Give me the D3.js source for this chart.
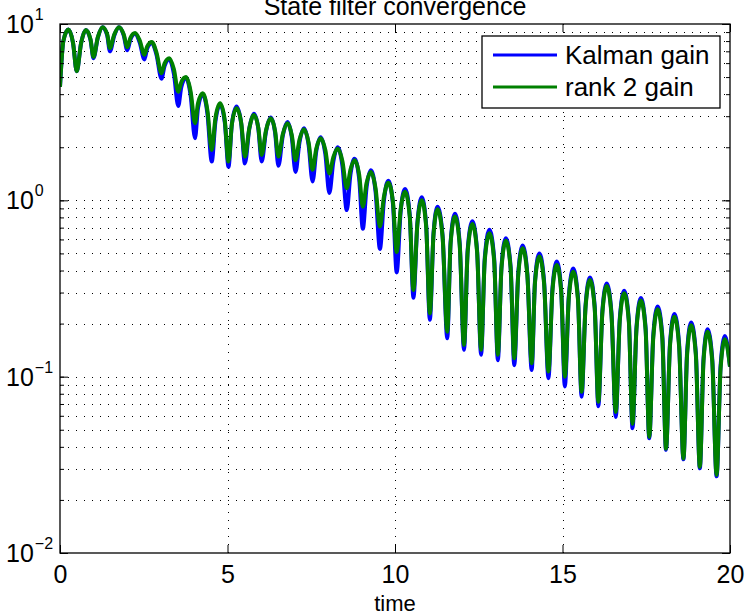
<!DOCTYPE html>
<meta charset="utf-8">
<style>
    body { margin: 0; background: #fff; }
    text { font-family: "Liberation Sans", Arial, Helvetica, sans-serif; fill: #000; }
</style>
<body>
<script src="https://cdn.jsdelivr.net/npm/d3@7"></script>
<script>
    /* data: peaks, troughs and the shoulders between them */
    var time = [0, 0.1, 0.25, 0.39, 0.50, 0.63, 0.77, 0.91, 1.00, 1.13, 1.27, 1.41, 1.49, 1.62, 1.76, 1.90, 2.01, 2.10,
        2.24, 2.38, 2.52, 2.60, 2.74, 2.88, 3.03, 3.12, 3.26, 3.40, 3.53, 3.62, 3.76, 3.90, 4.03, 4.12,
        4.26, 4.40, 4.53, 4.64, 4.78, 4.92, 5.03, 5.13, 5.27, 5.41, 5.52, 5.65, 5.79, 5.92, 6.02, 6.15,
        6.29, 6.42, 6.52, 6.65, 6.79, 6.92, 7.03, 7.15, 7.28, 7.42, 7.54, 7.65, 7.78, 7.92, 8.04, 8.16,
        8.29, 8.43, 8.56, 8.67, 8.79, 8.93, 9.04, 9.15, 9.28, 9.42, 9.55, 9.67, 9.80, 9.94, 10.05, 10.17,
        10.30, 10.44, 10.55, 10.67, 10.80, 10.93, 11.04, 11.15, 11.27, 11.42, 11.56, 11.66, 11.79, 11.93, 12.06, 12.17,
        12.31, 12.45, 12.57, 12.68, 12.82, 12.96, 13.07, 13.18, 13.31, 13.45, 13.56, 13.68, 13.81, 13.95, 14.08, 14.18,
        14.31, 14.45, 14.58, 14.70, 14.83, 14.96, 15.07, 15.19, 15.32, 15.46, 15.57, 15.69, 15.82, 15.96, 16.07, 16.19,
        16.32, 16.46, 16.59, 16.71, 16.84, 16.98, 17.09, 17.21, 17.34, 17.48, 17.59, 17.71, 17.84, 17.98, 18.09, 18.21,
        18.34, 18.48, 18.61, 18.72, 18.84, 18.98, 19.10, 19.21, 19.33, 19.47, 19.60, 19.72, 19.85, 20.0];

    var kalman = [4.4, 8.0, 9.3, 7.8, 5.4, 7.8, 9.25, 8.15, 6.4, 8.38, 9.6, 8.61, 7.0, 8.61, 9.6, 8.65, 7.1, 8.15,
        8.8, 7.85, 6.3, 7.23, 7.8, 6.7, 4.9, 5.77, 6.3, 5.21, 3.43, 4.37, 4.95, 3.92, 2.25, 3.34,
        4.0, 3.11, 1.66, 2.8, 3.5, 2.76, 1.55, 2.7, 3.4, 2.72, 1.62, 2.54, 3.1, 2.55, 1.66, 2.46,
        2.95, 2.43, 1.57, 2.32, 2.78, 2.27, 1.45, 2.14, 2.56, 2.07, 1.28, 1.9, 2.28, 1.83, 1.10, 1.66,
        2.0, 1.57, 0.88, 1.4, 1.72, 1.33, 0.69, 1.18, 1.48, 1.12, 0.53, 1.0, 1.29, 0.95, 0.39, 0.87,
        1.16, 0.83, 0.28, 0.75, 1.04, 0.725, 0.21, 0.65, 0.92, 0.633, 0.165, 0.58, 0.84, 0.575, 0.142, 0.525,
        0.76, 0.522, 0.133, 0.472, 0.68, 0.469, 0.124, 0.425, 0.61, 0.422, 0.116, 0.388, 0.555, 0.385, 0.109, 0.351,
        0.5, 0.347, 0.098, 0.316, 0.45, 0.312, 0.088, 0.288, 0.41, 0.283, 0.077, 0.256, 0.365, 0.252, 0.068, 0.235,
        0.338, 0.232, 0.059, 0.213, 0.307, 0.21, 0.051, 0.192, 0.279, 0.19, 0.0447, 0.172, 0.25, 0.17, 0.0385, 0.155,
        0.227, 0.154, 0.034, 0.139, 0.203, 0.137, 0.0302, 0.127, 0.186, 0.126, 0.0272, 0.116, 0.17, 0.114];

    var rank2 = [4.4, 8.0, 9.3, 7.8, 5.4, 7.8, 9.25, 8.2, 6.5, 8.42, 9.6, 8.73, 7.3, 8.73, 9.6, 8.76, 7.4, 8.33,
        8.9, 8.06, 6.7, 7.44, 7.9, 6.89, 5.25, 5.96, 6.4, 5.54, 4.13, 4.67, 5.0, 4.14, 2.74, 3.55,
        4.05, 3.24, 1.93, 2.93, 3.55, 2.83, 1.66, 2.7, 3.33, 2.74, 1.77, 2.56, 3.05, 2.58, 1.81, 2.5,
        2.92, 2.48, 1.77, 2.37, 2.74, 2.34, 1.69, 2.21, 2.53, 2.13, 1.49, 1.96, 2.25, 1.93, 1.42, 1.76,
        1.97, 1.67, 1.17, 1.49, 1.69, 1.4, 0.92, 1.25, 1.45, 1.17, 0.71, 1.05, 1.26, 0.975, 0.51, 0.89,
        1.12, 0.81, 0.31, 0.74, 1.0, 0.71, 0.228, 0.64, 0.89, 0.62, 0.18, 0.57, 0.81, 0.56, 0.151, 0.513,
        0.735, 0.51, 0.142, 0.457, 0.65, 0.454, 0.133, 0.416, 0.59, 0.414, 0.127, 0.38, 0.535, 0.377, 0.119, 0.343,
        0.48, 0.338, 0.107, 0.307, 0.43, 0.305, 0.1, 0.282, 0.394, 0.275, 0.082, 0.25, 0.353, 0.246, 0.072, 0.23,
        0.327, 0.227, 0.063, 0.208, 0.297, 0.205, 0.054, 0.188, 0.27, 0.185, 0.0456, 0.167, 0.241, 0.164, 0.039, 0.151,
        0.219, 0.149, 0.0344, 0.134, 0.196, 0.133, 0.0308, 0.123, 0.18, 0.122, 0.0277, 0.112, 0.163, 0.114];

    var seriesNames = ["Kalman gain", "rank 2 gain"];
    var seriesColors = ["#0000ff", "#008000"];
    var xTicks = [0, 5, 10, 15, 20];
    var yTicks = [0.01, 0.1, 1, 10];
    var yExponents = ["\u22122", "\u22121", "0", "1"];

    /* sizes (plot box edges) */
    var w = 746;
    var h = 615;
    var boxL = 60, boxR = 730, boxT = 24, boxB = 553;

    var svg = d3.select("body").append("svg")
        .attr("width", w)
        .attr("height", h);

    var xScale = d3.scaleLinear().domain([0, 20]).range([boxL, boxR]);
    var yScale = d3.scaleLog().domain([0.01, 10]).range([boxB, boxT]);

    var minorY = yScale.ticks();

    /* dotted grid */
    var grid = svg.append("g")
        .attr("stroke", "#000")
        .attr("stroke-width", 1)
        .attr("stroke-dasharray", "1,7")
        .attr("shape-rendering", "crispEdges");

    grid.selectAll(".hg")
        .data(minorY.filter(function (d) { return d > 0.0101 && d < 9.9; }))
        .enter().append("line")
        .attr("x1", boxL).attr("x2", boxR)
        .attr("y1", function (d) { return Math.round(yScale(d)) + 0.5; })
        .attr("y2", function (d) { return Math.round(yScale(d)) + 0.5; });

    grid.selectAll(".vg")
        .data(xTicks.slice(1, -1))
        .enter().append("line")
        .attr("y1", boxB).attr("y2", boxT)
        .attr("x1", function (d) { return Math.round(xScale(d)) + 0.5; })
        .attr("x2", function (d) { return Math.round(xScale(d)) + 0.5; });

    /* curves */
    svg.append("clipPath").attr("id", "clip")
        .append("rect")
        .attr("x", boxL).attr("y", boxT)
        .attr("width", boxR - boxL).attr("height", boxB - boxT);

    var line = d3.line()
        .x(function (d, i) { return xScale(time[i]); })
        .y(function (d) { return yScale(d); })
        .curve(d3.curveMonotoneX);

    svg.append("g").attr("clip-path", "url(#clip)")
        .selectAll("path")
        .data([kalman, rank2])
        .enter().append("path")
        .attr("d", line)
        .attr("fill", "none")
        .attr("stroke", function (d, i) { return seriesColors[i]; })
        .attr("stroke-width", 4)
        .attr("stroke-linejoin", "round");

    /* axes, ticks pointing inward on all four sides */
    var xAxisB = d3.axisBottom(xScale).tickValues(xTicks).tickSizeInner(-8).tickSizeOuter(0).tickPadding(12);
    var xAxisT = d3.axisTop(xScale).tickValues(xTicks).tickSizeInner(-8).tickSizeOuter(0).tickFormat("");
    var yAxisL = d3.axisLeft(yScale).tickValues(yTicks).tickSizeInner(-8).tickSizeOuter(0).tickFormat("");
    var yAxisR = d3.axisRight(yScale).tickValues(yTicks).tickSizeInner(-8).tickSizeOuter(0).tickFormat("");
    var yMinL = d3.axisLeft(yScale).tickValues(minorY).tickSizeInner(-4).tickSizeOuter(0).tickFormat("");
    var yMinR = d3.axisRight(yScale).tickValues(minorY).tickSizeInner(-4).tickSizeOuter(0).tickFormat("");

    var gx = svg.append("g").attr("transform", "translate(0," + boxB + ")").call(xAxisB);
    svg.append("g").attr("transform", "translate(0," + boxT + ")").call(xAxisT);
    svg.append("g").attr("transform", "translate(" + boxL + ",0)").call(yAxisL);
    svg.append("g").attr("transform", "translate(" + boxR + ",0)").call(yAxisR);
    svg.append("g").attr("transform", "translate(" + boxL + ",0)").call(yMinL);
    svg.append("g").attr("transform", "translate(" + boxR + ",0)").call(yMinR);

    svg.selectAll(".domain").remove();
    svg.selectAll(".tick line").attr("stroke", "#000").attr("stroke-width", 1);

    gx.selectAll("text")
        .style("font-size", "25px")
        .style("font-family", "'Liberation Sans', Arial, sans-serif")
        .attr("fill", "#000");

    /* plot box */
    svg.append("rect")
        .attr("x", boxL).attr("y", boxT)
        .attr("width", boxR - boxL).attr("height", boxB - boxT)
        .attr("fill", "none")
        .attr("stroke", "#000")
        .attr("stroke-width", 1.3);

    /* y labels: 10 with exponent */
    var yLab = svg.selectAll(".ylab")
        .data(yTicks)
        .enter().append("text")
        .attr("x", 6)
        .attr("y", function (d) { return yScale(d) + 9; })
        .style("font-size", "25px");
    yLab.append("tspan").text("10");
    yLab.append("tspan")
        .attr("dy", -13)
        .attr("dx", 1)
        .style("font-size", "16px")
        .text(function (d, i) { return yExponents[i]; });

    /* title and x label */
    svg.append("text")
        .attr("x", 395).attr("y", 15)
        .attr("text-anchor", "middle")
        .style("font-size", "25px")
        .text("State filter convergence");

    svg.append("text")
        .attr("x", 395).attr("y", 611)
        .attr("text-anchor", "middle")
        .style("font-size", "22px")
        .text("time");

    /* legend */
    var legend = svg.append("g");
    legend.append("rect")
        .attr("x", 482).attr("y", 36)
        .attr("width", 238).attr("height", 72)
        .attr("fill", "#fff")
        .attr("stroke", "#000")
        .attr("stroke-width", 1.3);

    var items = legend.selectAll(".item")
        .data(seriesNames)
        .enter().append("g")
        .attr("transform", function (d, i) { return "translate(0," + (55 + i * 32) + ")"; });

    items.append("line")
        .attr("x1", 493).attr("x2", 557)
        .attr("stroke", function (d, i) { return seriesColors[i]; })
        .attr("stroke-width", 3);

    items.append("text")
        .attr("x", 565).attr("y", 9)
        .style("font-size", "26px")
        .text(function (d) { return d; });
</script>
</body>
